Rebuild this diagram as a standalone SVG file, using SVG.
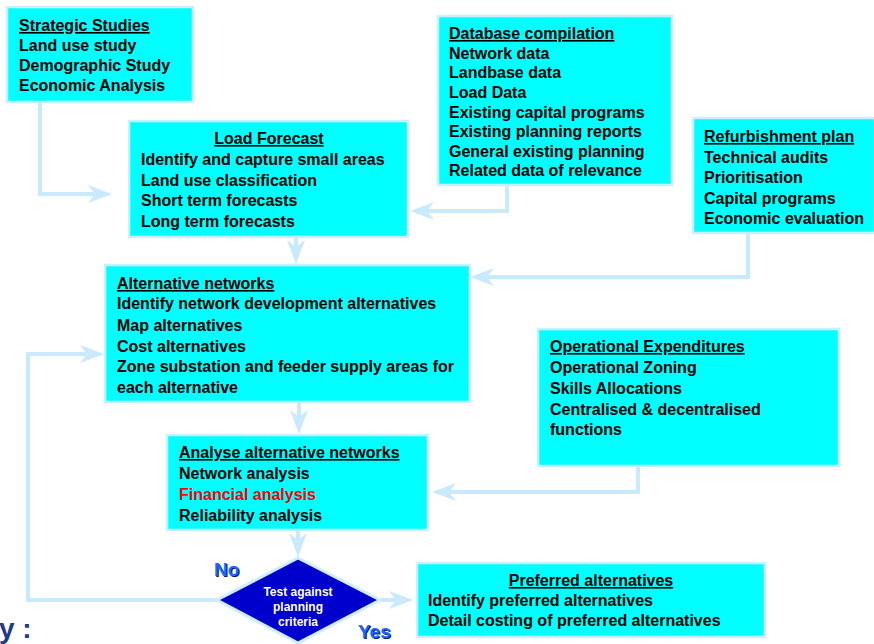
<svg xmlns="http://www.w3.org/2000/svg" width="874" height="644" viewBox="0 0 874 644">
<defs>
<style>
.box{fill:#00ffff;stroke:#cceeff;stroke-width:2.5}
.t{font-family:"Liberation Sans",Arial,sans-serif;font-weight:bold;font-size:16px;fill:#000}
.u{text-decoration:underline}
.red{fill:#ff0000}
.conn{fill:none;stroke:#c8eafc;stroke-width:4}
.dia{fill:#0000cc;stroke:#cceeff;stroke-width:3}
.dt{font-family:"Liberation Sans",Arial,sans-serif;font-weight:bold;font-size:12px;fill:#ffffff;text-anchor:middle}
.lbl{font-family:"Liberation Sans",Arial,sans-serif;font-weight:bold;font-size:19px}
</style>
<marker id="arr" viewBox="0 0 24 18" refX="10" refY="9" markerWidth="24" markerHeight="18" markerUnits="userSpaceOnUse" orient="auto">
<path d="M0,0 L24,9 L0,18 L7,9 z" fill="#c8eafc"/>
</marker>
</defs>
<rect width="874" height="644" fill="#ffffff"/>

<g id="connectors">
<path class="conn" d="M40,102 V194 H98" marker-end="url(#arr)"/>
<path class="conn" d="M507,185 V211 H424" marker-end="url(#arr)"/>
<path class="conn" d="M296,237 V250" marker-end="url(#arr)"/>
<path class="conn" d="M748,233 V277 H484" marker-end="url(#arr)"/>
<path class="conn" d="M299,402 V420" marker-end="url(#arr)"/>
<path class="conn" d="M638,466 V492 H446" marker-end="url(#arr)"/>
<path class="conn" d="M298,530 V543" marker-end="url(#arr)"/>
<path class="conn" d="M218,600 H28 V354 H90" marker-end="url(#arr)"/>
<path class="conn" d="M380,600 H399" marker-end="url(#arr)"/>
</g>

<g id="strategic">
<rect class="box" x="7" y="7" width="186" height="95"/>
<text class="t u" x="19" y="31">Strategic Studies</text>
<text class="t" x="19" y="51">Land use study</text>
<text class="t" x="19" y="71">Demographic Study</text>
<text class="t" x="19" y="91">Economic Analysis</text>
</g>

<g id="database">
<rect class="box" x="438" y="16" width="234" height="169"/>
<text class="t u" x="449" y="39">Database compilation</text>
<text class="t" x="449" y="59">Network data</text>
<text class="t" x="449" y="78">Landbase data</text>
<text class="t" x="449" y="98">Load Data</text>
<text class="t" x="449" y="118">Existing capital programs</text>
<text class="t" x="449" y="137">Existing planning reports</text>
<text class="t" x="449" y="157">General existing planning</text>
<text class="t" x="449" y="176">Related data of relevance</text>
</g>

<g id="loadforecast">
<rect class="box" x="129" y="121" width="279" height="116"/>
<text class="t u" x="269" y="144" text-anchor="middle">Load Forecast</text>
<text class="t" x="141" y="165">Identify and capture small areas</text>
<text class="t" x="141" y="186">Land use classification</text>
<text class="t" x="141" y="206">Short term forecasts</text>
<text class="t" x="141" y="227">Long term forecasts</text>
</g>

<g id="refurbishment">
<rect class="box" x="693" y="118" width="182" height="115"/>
<text class="t u" x="704" y="142">Refurbishment plan</text>
<text class="t" x="704" y="163">Technical audits</text>
<text class="t" x="704" y="183">Prioritisation</text>
<text class="t" x="704" y="204">Capital programs</text>
<text class="t" x="704" y="224">Economic evaluation</text>
</g>

<g id="alternatives">
<rect class="box" x="105" y="265" width="365" height="137"/>
<text class="t u" x="117" y="289">Alternative networks</text>
<text class="t" x="117" y="309">Identify network development alternatives</text>
<text class="t" x="117" y="331">Map alternatives</text>
<text class="t" x="117" y="352">Cost alternatives</text>
<text class="t" x="117" y="372">Zone substation and feeder supply areas for</text>
<text class="t" x="117" y="393">each alternative</text>
</g>

<g id="operational">
<rect class="box" x="538" y="329" width="301" height="137"/>
<text class="t u" x="550" y="352">Operational Expenditures</text>
<text class="t" x="550" y="373">Operational Zoning</text>
<text class="t" x="550" y="394">Skills Allocations</text>
<text class="t" x="550" y="415">Centralised &amp; decentralised</text>
<text class="t" x="550" y="435">functions</text>
</g>

<g id="analyse">
<rect class="box" x="167" y="435" width="261" height="95"/>
<text class="t u" x="179" y="458">Analyse alternative networks</text>
<text class="t" x="179" y="479">Network analysis</text>
<text class="t red" x="179" y="500">Financial analysis</text>
<text class="t" x="179" y="521">Reliability analysis</text>
</g>

<g id="test">
<polygon class="dia" points="298,558 380,600 298,643 217,600"/>
<text class="dt" x="298" y="596">Test against</text>
<text class="dt" x="298" y="611">planning</text>
<text class="dt" x="298" y="626">criteria</text>
</g>

<g id="labels">
<text class="lbl" x="215" y="577" fill="#001a80">No</text>
<text class="lbl" x="214" y="576" fill="#1a66ff">No</text>
<text class="lbl" x="359" y="639" fill="#001a80">Yes</text>
<text class="lbl" x="358" y="638" fill="#1a66ff">Yes</text>
</g>

<g id="preferred">
<rect class="box" x="417" y="563" width="348" height="74"/>
<text class="t u" x="591" y="586" text-anchor="middle">Preferred alternatives</text>
<text class="t" x="428" y="606">Identify preferred alternatives</text>
<text class="t" x="428" y="626">Detail costing of preferred alternatives</text>
</g>

<text x="-1" y="638" font-family="Liberation Sans,Arial,sans-serif" font-weight="bold" font-size="28" fill="#1f3c88">y :</text>
</svg>
